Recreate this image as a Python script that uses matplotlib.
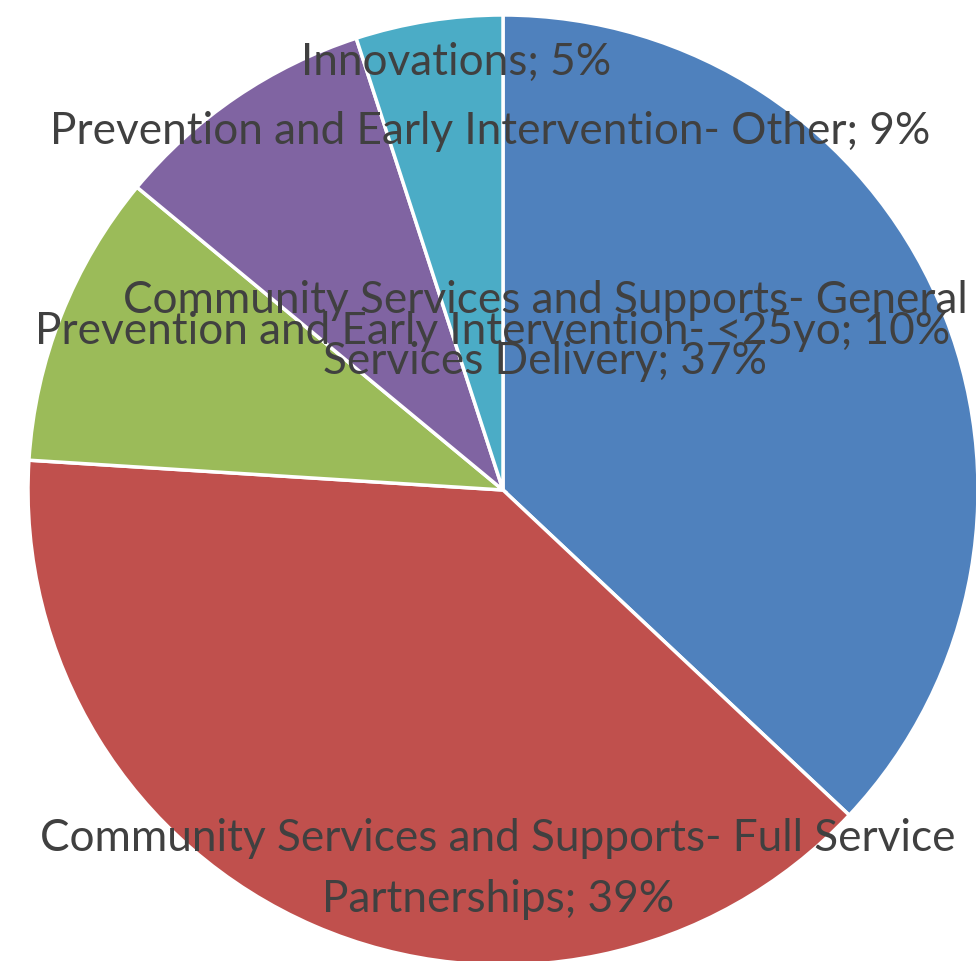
import matplotlib
matplotlib.use("Agg")
import matplotlib.pyplot as plt

categories = [
    "Community Services and Supports- General\nServices Delivery",
    "Community Services and Supports- Full Service\nPartnerships",
    "Prevention and Early Intervention- <25yo",
    "Prevention and Early Intervention- Other",
    "Innovations",
]
values = [37, 39, 10, 9, 5]
colors = ["#4F81BD", "#C0504D", "#9BBB59", "#8064A2", "#4BACC6"]

# label centres in pixel units (image y measured from the top)
label_pos = [(545, 331), (498, 869), (493, 332), (490, 132), (456, 62)]

W, H = 976, 961
fig = plt.figure(figsize=(W / 100, H / 100), dpi=100)
ax = fig.add_axes([0, 0, 1, 1])

ax.pie(values, colors=colors, startangle=90, counterclock=False,
       center=(503, H - 490), radius=475,
       wedgeprops=dict(edgecolor="white", linewidth=2.5))
ax.set_xlim(0, W)
ax.set_ylim(0, H)
ax.axis("off")

for cat, v, (x, y) in zip(categories, values, label_pos):
    ax.text(x, H - y, f"{cat}; {v}%", ha="center", va="center",
            fontsize=31.8, color="#404040", family="Lato", linespacing=1.58)

fig.savefig("out.png", dpi=100)
